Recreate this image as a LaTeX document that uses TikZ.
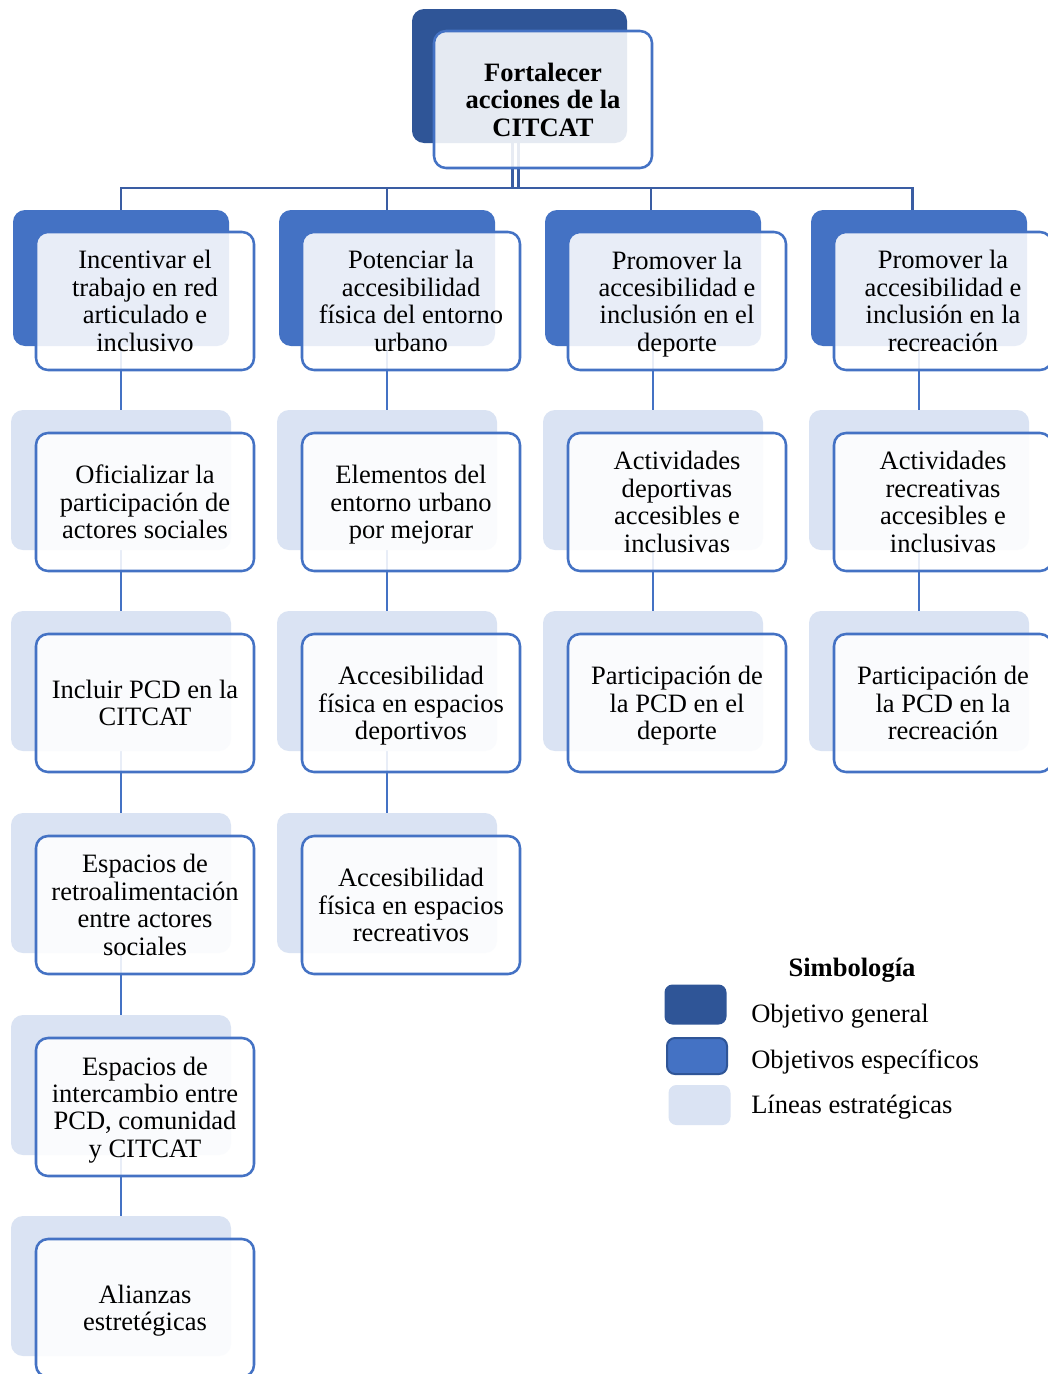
\documentclass[tikz,border=0pt]{standalone}
\usepackage{fontspec}
\setmainfont{Liberation Serif}
\pgfdeclarelayer{paper}
\pgfdeclarelayer{bg}
\pgfsetlayers{paper,bg,main}
\definecolor{cdark}{HTML}{2F5597}
\definecolor{cmid}{HTML}{4472C4}
\definecolor{clight}{HTML}{DAE3F3}
\definecolor{cbus}{HTML}{3A5DA3}
\newcommand{\txtfont}{\fontsize{19.9}{20.6}\selectfont}
\tikzset{
  front/.style={draw=cmid, line width=1.9pt, rounded corners=9pt, fill=white, fill opacity=0.88, text opacity=1,
    minimum width=163.5pt, minimum height=103.5pt, inner sep=0pt, outer sep=0pt, align=center,
    font=\txtfont, anchor=north west},
  backdark/.style={fill=cdark, rounded corners=9pt, minimum width=161.25pt, minimum height=100.5pt,
    inner sep=0pt, outer sep=0pt, anchor=north west, xshift=-16.5pt, yshift=16.5pt},
  backmid/.style={fill=cmid, rounded corners=9pt, minimum width=162pt, minimum height=102pt,
    inner sep=0pt, outer sep=0pt, anchor=north west, xshift=-17.25pt, yshift=16.5pt},
  backlight/.style={fill=clight, rounded corners=9pt, minimum width=165pt, minimum height=105pt,
    inner sep=0pt, outer sep=0pt, anchor=north west, xshift=-18.75pt, yshift=17.25pt},
  bus/.style={draw=cbus, line width=2.2pt},
  conn/.style={draw=cmid, line width=1.9pt},
  legtext/.style={anchor=base west, inner sep=0pt, font=\txtfont},
  swatch/.style={rounded corners=6pt, minimum width=46.5pt, inner sep=0pt, outer sep=0pt},
}
\newcommand{\obox}[5]{%
  \node[#4] (#1b) at (#2,#3) {};
  \node[front] (#1) at (#2,#3) {#5};
}
\newcommand{\nodep}[1]{\smash{#1}}
\begin{document}
\begin{tikzpicture}[x=0.75pt, y=-0.75pt]
\useasboundingbox (0,0) rectangle (1048,1374);
\begin{pgfonlayer}{paper}
  \fill[white] (0,0) rectangle (1048,1374);
\end{pgfonlayer}
\clip (0,0) rectangle (1048,1374);

% top box
\node[backdark] (topb) at (434,31) {};
\node[front, minimum height=102.75pt] (top) at (434,31) {\bfseries Fortalecer\\\bfseries acciones de la\\\bfseries CITCAT};

% column 1
\obox{a1}{36}{232}{backmid}{Incentivar el\\trabajo en red\\articulado e\\inclusivo}
\obox{a2}{36}{433}{backlight}{Oficializar la\\participación de\\actores sociales}
\obox{a3}{36}{634}{backlight}{Incluir PCD en la\\CITCAT}
\obox{a4}{36}{836}{backlight}{Espacios de\\retroalimentación\\entre actores\\sociales}
\obox{a5}{36}{1038}{backlight}{Espacios de\\intercambio entre\\PCD, comunidad\\\nodep{y CITCAT}}
\obox{a6}{36}{1239}{backlight}{Alianzas\\\nodep{estretégicas}}

% column 2
\obox{b1}{302}{232}{backmid}{Potenciar la\\accesibilidad\\física del entorno\\urbano}
\obox{b2}{302}{433}{backlight}{Elementos del\\entorno urbano\\\nodep{por mejorar}}
\obox{b3}{302}{634}{backlight}{Accesibilidad\\física en espacios\\\nodep{deportivos}}
\obox{b4}{302}{836}{backlight}{Accesibilidad\\física en espacios\\recreativos}

% column 3
\obox{c1}{568}{232}{backmid}{Promover la\\accesibilidad e\\inclusión en el\\\nodep{deporte}}
\obox{c2}{568}{433}{backlight}{Actividades\\deportivas\\accesibles e\\inclusivas}
\obox{c3}{568}{634}{backlight}{Participación de\\la PCD en el\\\nodep{deporte}}

% column 4
\obox{d1}{834}{232}{backmid}{Promover la\\accesibilidad e\\inclusión en la\\recreación}
\obox{d2}{834}{433}{backlight}{Actividades\\recreativas\\accesibles e\\inclusivas}
\obox{d3}{834}{634}{backlight}{Participación de\\la PCD en la\\recreación}

% connectors (behind)
\begin{pgfonlayer}{bg}
  \draw[bus] ([xshift=-5.6pt]topb.south) -- ++(0,45);
  \draw[bus] ([xshift=-1.1pt]topb.south) -- ++(0,45);
  \draw[bus] (a1b.north) -- ++(0,-22) -| ([xshift=-5pt]d1b.north);
  \draw[bus] (b1b.north) -- ++(0,-22);
  \draw[bus] ([xshift=-1.5pt]c1b.north) -- ++(0,-22);
  \draw[conn] (a1b.south) -- (a2b.north);
  \draw[conn] (a2b.south) -- (a3b.north);
  \draw[conn] (a3b.south) -- (a4b.north);
  \draw[conn] (a4b.south) -- (a5b.north);
  \draw[conn] (a5b.south) -- (a6b.north);
  \draw[conn] (b1b.south) -- (b2b.north);
  \draw[conn] (b2b.south) -- (b3b.north);
  \draw[conn] (b3b.south) -- (b4b.north);
  \draw[conn] (c1b.south) -- (c2b.north);
  \draw[conn] (c2b.south) -- (c3b.north);
  \draw[conn] (d1b.south) -- (d2b.north);
  \draw[conn] (d2b.south) -- (d3b.north);
\end{pgfonlayer}

% legend
\node[anchor=base, inner sep=0pt, font=\txtfont\bfseries] (legt) at (852,976) {Simbología};
\node[swatch, fill=cdark, minimum height=30pt] (s1) at (695.5,1004.5) {};
\node[swatch, fill=cmid, draw=cdark, line width=1.5pt, minimum height=27pt, minimum width=45pt] (s2) at (697,1056) {};
\node[swatch, fill=clight, minimum height=30pt] (s3) at (699.5,1105) {};
\node[legtext] (l1) at (751,1022) {Objetivo general};
\node[legtext] (l2) at (751,1068) {Objetivos específicos};
\node[legtext] (l3) at (751,1113) {Líneas estratégicas};
\end{tikzpicture}
\end{document}
